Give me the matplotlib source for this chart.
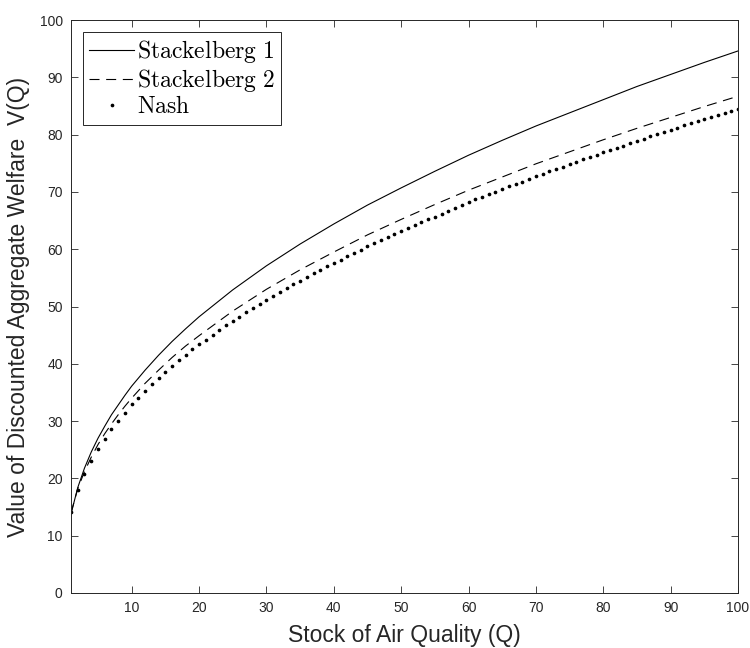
import matplotlib
matplotlib.use('Agg')
import matplotlib.pyplot as plt

# values
q_line = [1, 2, 3, 4, 5, 6, 7, 8, 9, 10, 12, 14, 16, 18, 20, 25, 30, 35, 40,
          45, 50, 55, 60, 65, 70, 75, 80, 85, 90, 95, 100]
stackelberg_1 = [13.8, 18.4, 21.8, 24.6, 27.0, 29.1, 31.1, 32.8, 34.5, 36.1,
                 38.9, 41.5, 43.9, 46.1, 48.2, 52.9, 57.1, 60.9, 64.4, 67.7,
                 70.7, 73.6, 76.4, 79.0, 81.5, 83.8, 86.1, 88.4, 90.5, 92.6,
                 94.6]
stackelberg_2 = [14.0, 18.2, 21.2, 23.7, 25.9, 27.8, 29.5, 31.1, 32.6, 34.0,
                 36.6, 38.9, 41.1, 43.1, 44.9, 49.2, 53.0, 56.4, 59.5, 62.5,
                 65.2, 67.8, 70.3, 72.6, 74.9, 77.0, 79.1, 81.1, 83.0, 84.9,
                 86.7]

q_nash = list(range(1, 101))
nash = [14.1, 17.9, 20.8, 23.1, 25.1, 26.9, 28.6, 30.1, 31.5, 32.9,
        34.1, 35.3, 36.5, 37.6, 38.6, 39.6, 40.6, 41.5, 42.5, 43.4,
        44.2, 45.1, 45.9, 46.7, 47.5, 48.2, 49.0, 49.7, 50.4, 51.2,
        51.9, 52.5, 53.2, 53.9, 54.5, 55.1, 55.8, 56.4, 57.0, 57.6,
        58.2, 58.8, 59.4, 59.9, 60.5, 61.0, 61.6, 62.1, 62.7, 63.2,
        63.7, 64.2, 64.7, 65.3, 65.7, 66.2, 66.7, 67.2, 67.7, 68.2,
        68.7, 69.1, 69.6, 70.0, 70.5, 71.0, 71.4, 71.8, 72.3, 72.7,
        73.2, 73.6, 74.0, 74.4, 74.9, 75.3, 75.7, 76.1, 76.5, 76.9,
        77.3, 77.7, 78.1, 78.5, 78.9, 79.3, 79.7, 80.1, 80.5, 80.8,
        81.2, 81.6, 82.0, 82.3, 82.7, 83.1, 83.4, 83.8, 84.1, 84.5]

x_ticks = [10, 20, 30, 40, 50, 60, 70, 80, 90, 100]
y_ticks = [0, 10, 20, 30, 40, 50, 60, 70, 80, 90, 100]

plt.rcParams['font.family'] = ['Liberation Sans', 'DejaVu Sans']
plt.rcParams['mathtext.fontset'] = 'cm'

fig = plt.figure(figsize=(7.5, 6.48), dpi=100)
ax = fig.add_axes([0.0947, 0.0849, 0.8893, 0.8842])

ax.plot(q_line, stackelberg_1, color='k', lw=0.8,
        label=r'$\mathrm{Stackelberg\ 1}$')
ax.plot(q_line, stackelberg_2, color='k', lw=0.8, ls=(0, (9, 6)),
        label=r'$\mathrm{Stackelberg\ 2}$')
ax.plot(q_nash, nash, color='k', ls='none', marker='.', ms=3.3,
        label=r'$\mathrm{Nash}$')

ax.set_xlim(1, 100)
ax.set_ylim(0, 100)
ax.set_xticks(x_ticks)
ax.set_yticks(y_ticks)
ax.tick_params(direction='in', top=True, right=True, length=5, width=0.6,
               colors='#262626', labelsize=10, pad=6)
for s in ax.spines.values():
    s.set_color('#262626')
    s.set_linewidth(0.7)

ax.set_xlabel('Stock of Air Quality (Q)', fontsize=16.5, color='#262626',
              labelpad=6)
ax.set_ylabel('Value of Discounted Aggregate Welfare  V(Q)', fontsize=16.5,
              color='#262626', labelpad=7)

leg = ax.legend(loc='upper left', fontsize=17, handlelength=1.9,
                handletextpad=0.1, labelspacing=0.08, borderpad=0.28,
                fancybox=False, framealpha=1, edgecolor='#262626',
                borderaxespad=0.5)
leg.get_frame().set_linewidth(0.7)

plt.savefig('out.png', dpi=100)
